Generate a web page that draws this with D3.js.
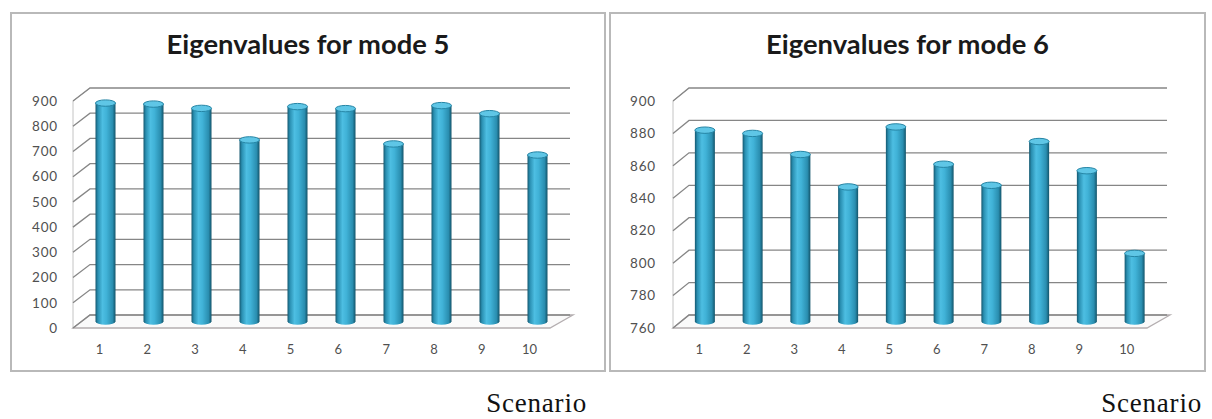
<!DOCTYPE html>
<html>
<head>
<meta charset="utf-8">
<script src="https://cdn.jsdelivr.net/npm/d3@7"></script>
<style>
  html, body { margin: 0; padding: 0; background: #fff; }
  svg { display: block; }
</style>
</head>
<body>
<svg id="chart" width="1212" height="419"></svg>
<script>
// ---------- data ----------
const scenarios = ["1", "2", "3", "4", "5", "6", "7", "8", "9", "10"];
const mode5Values = [866, 862, 845, 720, 852, 844, 704, 856, 824, 660];
const mode6Values = [878, 876, 863, 843, 880, 857, 844, 871, 853, 802];
const mode5Ticks = [0, 100, 200, 300, 400, 500, 600, 700, 800, 900];
const mode6Ticks = [760, 780, 800, 820, 840, 860, 880, 900];
const titles = ["Eigenvalues for mode 5", "Eigenvalues for mode 6"];
const xAxisTitle = "Scenario";

// ---------- layout ----------
const svg = d3.select("#chart");
const defs = svg.append("defs");
const grad = defs.append("linearGradient").attr("id", "cyl")
  .attr("x1", "0").attr("x2", "1").attr("y1", "0").attr("y2", "0");
[[0, "#145870"], [0.12, "#2a8fb1"], [0.35, "#4dbee2"], [0.55, "#40b2d7"],
 [0.85, "#2a8eb0"], [1, "#13546a"]].forEach(([o, c]) =>
  grad.append("stop").attr("offset", o).attr("stop-color", c));

const panels = [
  { box: [11, 13, 605, 371], frontX: [73, 550], backX: [90, 573],
    domain: [0, 900], values: mode5Values, ticks: mode5Ticks, title: titles[0],
    titleW: 283, labelX: 58, scenarioEnd: 587 },
  { box: [610, 13, 1205, 371], frontX: [673, 1147], backX: [689, 1170],
    domain: [760, 900], values: mode6Values, ticks: mode6Ticks, title: titles[1],
    titleW: 283, labelX: 656, scenarioEnd: 1202 }
];
const yFrontRange = [328, 101];
const yBackRange = [315, 88];
const lerp = (a, b, t) => a + (b - a) * t;
const lerpR = (r1, r2, t) => [lerp(r1[0], r2[0], t), lerp(r1[1], r2[1], t)];

panels.forEach(p => {
  const g = svg.append("g");
  const [x0, y0, x1, y1] = p.box;
  g.append("rect").attr("x", x0).attr("y", y0).attr("width", x1 - x0).attr("height", y1 - y0)
    .attr("fill", "#fff").attr("stroke", "#b9b9b9").attr("stroke-width", 2);

  const yFront = d3.scaleLinear().domain(p.domain).range(yFrontRange);
  const yBack = d3.scaleLinear().domain(p.domain).range(yBackRange);
  const yMid = d3.scaleLinear().domain(p.domain).range(lerpR(yFrontRange, yBackRange, 0.5));
  const xMid = d3.scalePoint().domain(scenarios).range(lerpR(p.frontX, p.backX, 0.5)).padding(0.5);
  const xLab = d3.scalePoint().domain(scenarios).range(lerpR(p.frontX, p.backX, 0.15)).padding(0.5);

  // floor
  const lo = p.domain[0];
  g.append("path")
    .attr("d", `M${p.frontX[0]},${yFront(lo)}L${p.frontX[1]},${yFront(lo)}L${p.backX[1]},${yBack(lo)}L${p.backX[0]},${yBack(lo)}Z`)
    .attr("fill", "#fafafa").attr("stroke", "#b4aeb0").attr("stroke-width", 1.3);

  // side wall edge
  const top = p.domain[1];
  g.append("path")
    .attr("d", `M${p.frontX[0]},${yFront(lo)}L${p.frontX[0]},${yFront(top)}L${p.backX[0]},${yBack(top)}`)
    .attr("fill", "none").attr("stroke", "#c4c4c4").attr("stroke-width", 1);

  // gridlines (side wall + back wall)
  g.selectAll(".grid").data(p.ticks).join("path")
    .attr("d", v => `M${p.frontX[0]},${yFront(v)}L${p.backX[0]},${yBack(v)}L${p.backX[1] - 3},${yBack(v)}`)
    .attr("fill", "none").attr("stroke", "#868686").attr("stroke-width", 1.3);

  // y labels
  g.selectAll(".ylab").data(p.ticks).join("text")
    .attr("x", p.labelX).attr("y", v => yFront(v)).attr("dy", "0.35em")
    .attr("text-anchor", "end").attr("font-family", "Lato, 'Open Sans', sans-serif")
    .attr("font-size", 13.5).attr("letter-spacing", 0.8).attr("fill", "#505050")
    .text(v => v);

  // bars (cylinders)
  const bw = 20, ry = 3.2;
  const bars = g.selectAll(".bar").data(p.values.map((v, i) => ({ v, c: scenarios[i] })))
    .join("g");
  bars.append("path")
    .attr("d", d => {
      const cx = xMid(d.c), yt = yMid(d.v), yb = yMid(lo);
      return `M${cx - bw / 2},${yt}L${cx - bw / 2},${yb}A${bw / 2},${ry} 0 0 0 ${cx + bw / 2},${yb}L${cx + bw / 2},${yt}Z`;
    })
    .attr("fill", "url(#cyl)");
  bars.append("ellipse")
    .attr("cx", d => xMid(d.c)).attr("cy", d => yMid(d.v))
    .attr("rx", bw / 2).attr("ry", ry)
    .attr("fill", "#5fc6e6").attr("stroke", "#2585a5").attr("stroke-width", 1);

  // x labels
  g.selectAll(".xlab").data(scenarios).join("text")
    .attr("x", c => xLab(c)).attr("y", 349).attr("dy", "0.35em")
    .attr("text-anchor", "middle").attr("font-family", "Lato, 'Open Sans', sans-serif")
    .attr("font-size", 13).attr("fill", "#505050")
    .text(c => c);

  // title
  const t = g.append("text")
    .attr("x", (x0 + x1) / 2).attr("y", 54).attr("text-anchor", "middle")
    .attr("font-family", "Lato, 'Open Sans', sans-serif").attr("font-weight", "bold")
    .attr("font-size", 26).attr("fill", "#1a1a1a").text(p.title);
  const len = t.node().getComputedTextLength();
  if (len > 0) t.attr("font-size", 26 * p.titleW / len);

  // scenario label
  svg.append("text").attr("x", p.scenarioEnd).attr("y", 412).attr("text-anchor", "end")
    .attr("font-family", "'Liberation Serif', 'Times New Roman', serif")
    .attr("font-size", 27).attr("letter-spacing", 0.8).attr("fill", "#111").text(xAxisTitle);
});
</script>
</body>
</html>
